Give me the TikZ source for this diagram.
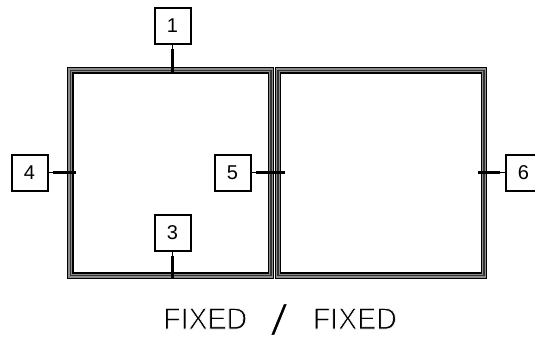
\documentclass[tikz,border=0pt]{standalone}
\usepackage{fontspec}
\setmainfont{Liberation Sans}
\newcommand{\thinink}[2]{\special{pdf:code q 2 Tr 1 1 1 RG #1 w}#2\special{pdf:code 0 Tr Q}}
\tikzset{
  tagbox/.style={draw=black,line width=2pt,fill=white,minimum width=36pt,minimum height=36pt,inner sep=0pt,font=\fontsize{20}{20}\selectfont},
  thinlead/.style={draw=black,line width=0.8pt},
  thicklead/.style={draw=black,line width=2.6pt},
  framefill/.style={draw=black!45,line width=6.4pt},
  frameouter/.style={draw=black,line width=1.2pt},
  framemid/.style={draw=black!80,line width=1.2pt},
  caption/.style={font=\fontsize{30}{30}\selectfont,inner sep=0pt}
}
\newcommand{\winframe}[4]{%
  \draw[framefill] (#1+3.2,#3+3.2) rectangle (#2-3.2,#4-3.2);
  \draw[frameouter] (#1+0.6,#3+0.6) rectangle (#2-0.6,#4-0.6);
  \draw[framemid] (#1+3.3,#3+3.3) rectangle (#2-3.3,#4-3.3);
  \draw[frameouter] (#1+6,#3+6) rectangle (#2-6,#4-6);
}
\begin{document}
\begin{tikzpicture}[x=1pt,y=-1pt]
\useasboundingbox[fill=white] (0,0) rectangle (535,340);
\winframe{67}{274.3}{67}{279}
\winframe{274.7}{487.3}{67}{279}
\node[tagbox] (b1) at (172.5,25.5) {1};
\node[tagbox] (b4) at (29.5,172.5) {4};
\node[tagbox] (b5) at (232.5,172.5) {5};
\node[tagbox] (b3) at (172.5,233) {3};
\node[tagbox] (b6) at (523.5,172.5) {6};
\coordinate (e1a) at (172.5,49); \coordinate (e1) at (172.5,73);
\coordinate (e4a) at (53,172.5); \coordinate (e4) at (76,172.5);
\coordinate (e5a) at (256,172.5); \coordinate (e5) at (285,172.5);
\coordinate (e3a) at (172.5,256); \coordinate (e3) at (172.5,279);
\coordinate (e6a) at (500,172.5); \coordinate (e6) at (478,172.5);
\draw[thinlead] (b1.south) -- (e1a);
\draw[thicklead] (e1a) -- (e1);
\draw[thinlead] (b4.east) -- (e4a);
\draw[thicklead] (e4a) -- (e4);
\draw[thinlead] (b5.east) -- (e5a);
\draw[thicklead] (e5a) -- (e5);
\draw[thinlead] (b3.south) -- (e3a);
\draw[thicklead] (e3a) -- (e3);
\draw[thinlead] (b6.west) -- (e6a);
\draw[thicklead] (e6a) -- (e6);
\node[caption,xscale=0.95,anchor=base] (cap) at (280,329)
  {\thinink{0.7}{FIXED}\hspace{24pt}\raisebox{-6pt}{\scalebox{2.3}[1.45]{\thinink{0.9}{/}}}\hspace{26pt}\thinink{0.7}{FIXED}};
\end{tikzpicture}
\end{document}
